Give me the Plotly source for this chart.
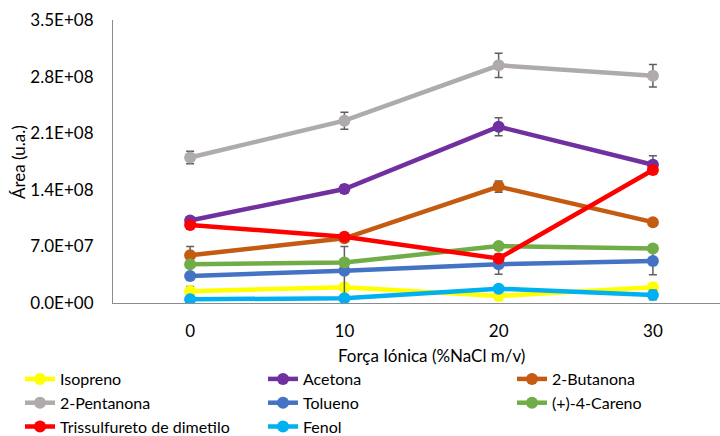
import plotly.graph_objects as go

# Ionic strength levels (% NaCl m/v)
forca_ionica = [0, 10, 20, 30]

# Peak areas (u.a.) and standard deviations for each compound
isopreno = [1.45e7, 1.95e7, 8.7e6, 1.95e7]
isopreno_dp = [6e6, 3e6, 5e6, 3e6]
acetona = [1.02e8, 1.41e8, 2.18e8, 1.71e8]
acetona_dp = [3e6, 5e6, 1.1e7, 1.1e7]
butanona = [5.9e7, 8.0e7, 1.44e8, 1.0e8]
butanona_dp = [1.1e7, 3e6, 7e6, 3e6]
pentanona = [1.8e8, 2.255e8, 2.94e8, 2.81e8]
pentanona_dp = [7.8e6, 1.05e7, 1.5e7, 1.4e7]
tolueno = [3.35e7, 4.0e7, 4.8e7, 5.2e7]
tolueno_dp = [3e6, 3.0e7, 1.25e7, 1.7e7]
careno = [4.8e7, 5.0e7, 7.05e7, 6.75e7]
careno_dp = [3e6, 3e6, 3e6, 3e6]
trissulfureto = [9.65e7, 8.2e7, 5.5e7, 1.645e8]
trissulfureto_dp = [2e6, 2e6, 2e6, 2e6]
fenol = [4.6e6, 5.8e6, 1.77e7, 9.9e6]
fenol_dp = [2e6, 2e6, 3e6, 6e6]

y_ticks = [0, 7.0e7, 1.4e8, 2.1e8, 2.8e8, 3.5e8]
y_ticktext = [f"{v:.1E}" for v in y_ticks]

# (name, values, std dev, colour, legend column)
series = [
    ("Isopreno", isopreno, isopreno_dp, "#FFFF00", "legend"),
    ("Acetona", acetona, acetona_dp, "#7030A0", "legend2"),
    ("2-Butanona", butanona, butanona_dp, "#C55A11", "legend3"),
    ("2-Pentanona", pentanona, pentanona_dp, "#AFABAB", "legend"),
    ("Tolueno", tolueno, tolueno_dp, "#4472C4", "legend2"),
    ("(+)-4-Careno", careno, careno_dp, "#70AD47", "legend3"),
    ("Trissulfureto de dimetilo", trissulfureto, trissulfureto_dp, "#FF0000", "legend"),
    ("Fenol", fenol, fenol_dp, "#00B0F0", "legend2"),
]

FONT = "Lato"
FS = 17
LEG_FS = 16
W, H = 720, 436
L, T, R, B = 113, 20, 0, 133
PW, PH = W - L - R, H - T - B

fig = go.Figure()
for nome, valores, dp, cor, leg in series:
    fig.add_trace(go.Scatter(
        x=forca_ionica, y=valores, name=nome, mode="lines+markers",
        legend=leg,
        line=dict(color=cor, width=4.5),
        marker=dict(color=cor, size=12),
        error_y=dict(type="data", array=dp, visible=True,
                     color="#5f5f5f", thickness=1.5, width=4),
    ))


def legend_column(x_px):
    return dict(
        orientation="v", x=x_px / W, xref="container", xanchor="left",
        y=(H - 362) / H, yref="container", yanchor="top",
        font=dict(family=FONT, size=LEG_FS), tracegroupgap=0,
        bgcolor="rgba(0,0,0,0)",
    )


fig.update_layout(
    width=W, height=H,
    margin=dict(l=L, r=R, t=T, b=B, autoexpand=False),
    paper_bgcolor="white", plot_bgcolor="white",
    font=dict(family=FONT, size=FS, color="#000000"),
    showlegend=True,
    legend=legend_column(20),
    legend2=legend_column(263),
    legend3=legend_column(512),
    xaxis=dict(
        range=[-5, 34.35], tickvals=forca_ionica,
        showgrid=False, zeroline=False,
        showline=True, linecolor="#8c8c8c", linewidth=1.2,
        ticks="", ticklabelstandoff=12,
        tickfont=dict(family=FONT, size=FS),
    ),
    yaxis=dict(
        range=[0, 3.5e8], tickvals=y_ticks, ticktext=y_ticktext,
        showgrid=False, zeroline=False,
        showline=True, linecolor="#8c8c8c", linewidth=1.2,
        ticks="", ticklabelstandoff=15,
        tickfont=dict(family=FONT, size=FS),
    ),
    annotations=[
        dict(
            text="Força Iónica (%NaCl m/v)", showarrow=False,
            xref="paper", x=(431 - L) / PW, xanchor="center",
            yref="paper", y=-(355 - (H - B)) / PH, yanchor="middle",
            font=dict(family=FONT, size=FS),
        ),
        dict(
            text="Área (u.a.)", showarrow=False, textangle=-90,
            xref="paper", x=(18 - L) / PW, xanchor="center",
            yref="paper", y=((H - B) - 162) / PH, yanchor="middle",
            font=dict(family=FONT, size=FS),
        ),
    ],
)

fig.write_html("out.html")
